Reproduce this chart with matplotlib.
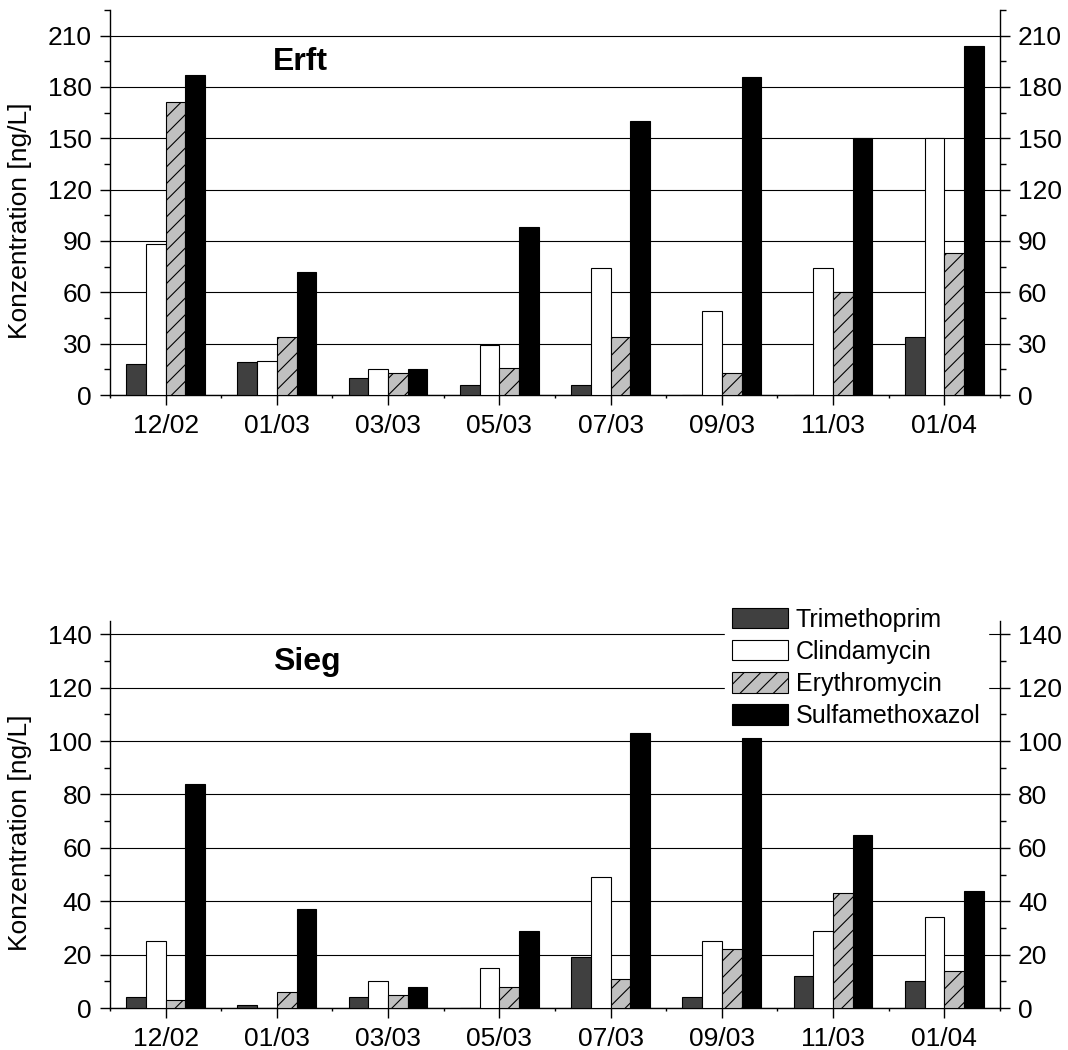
#%% Data

import numpy as np
import matplotlib.pyplot as plt
from matplotlib.ticker import MultipleLocator

dates = ['12/02', '01/03', '03/03', '05/03', '07/03', '09/03', '11/03', '01/04']
substances = ['Trimethoprim', 'Clindamycin', 'Erythromycin', 'Sulfamethoxazol']

# Erft [ng/L]
erft_trimethoprim = [18, 19, 10, 6, 6, 0, 0, 34]
erft_clindamycin = [88, 20, 15, 29, 74, 49, 74, 150]
erft_erythromycin = [171, 34, 13, 16, 34, 13, 60, 83]
erft_sulfamethoxazol = [187, 72, 15, 98, 160, 186, 150, 204]

# Sieg [ng/L]
sieg_trimethoprim = [4, 1, 4, 0, 19, 4, 12, 10]
sieg_clindamycin = [25, 0, 10, 15, 49, 25, 29, 34]
sieg_erythromycin = [3, 6, 5, 8, 11, 22, 43, 14]
sieg_sulfamethoxazol = [84, 37, 8, 29, 103, 101, 65, 44]

#%% Styling

plt.rcParams['font.family'] = ['Liberation Sans', 'DejaVu Sans']
plt.rcParams['hatch.linewidth'] = 0.8

faceColours = ['#404040', 'white', '#c0c0c0', 'black']
hatches = [None, None, '//', None]
barWidth = 0.177
fontSize = 19

fig = plt.figure(figsize=(10.68, 10.5), dpi=100)
axTop = fig.add_axes([0.103, 0.6238, 0.8333, 0.3667])
axBottom = fig.add_axes([0.103, 0.04, 0.8333, 0.3686])

panels = [
    (axTop, 'Erft', [erft_trimethoprim, erft_clindamycin, erft_erythromycin, erft_sulfamethoxazol],
     225, 30, 15, 0.844),
    (axBottom, 'Sieg', [sieg_trimethoprim, sieg_clindamycin, sieg_erythromycin, sieg_sulfamethoxazol],
     145, 20, 10, 0.873),
]

x = np.arange(len(dates))

for ax, river, series, yTop, major, minor, titleY in panels:
    for k, values in enumerate(series):
        ax.bar(x + (k - 1.5) * barWidth, values, width=barWidth,
               color=faceColours[k], edgecolor='black', linewidth=0.8,
               hatch=hatches[k], label=substances[k], zorder=3)

    ax.set_xlim(-0.5, len(dates) - 0.5)
    ax.set_ylim(0, yTop)
    ax.set_xticks(x)
    ax.set_xticklabels(dates)
    ax.xaxis.set_minor_locator(MultipleLocator(1, offset=0.5))
    ax.yaxis.set_major_locator(MultipleLocator(major))
    ax.yaxis.set_minor_locator(MultipleLocator(minor))

    ax.grid(axis='y', which='major', color='black', linewidth=0.8, zorder=0)
    ax.set_axisbelow(True)

    ax.spines['top'].set_visible(False)
    for side in ['left', 'right', 'bottom']:
        ax.spines[side].set_linewidth(1.0)

    ax.tick_params(axis='y', which='both', direction='out', left=True, right=True,
                   labelleft=True, labelright=True, labelsize=fontSize, width=1.0)
    ax.tick_params(axis='y', which='major', length=7, pad=6)
    ax.tick_params(axis='y', which='minor', length=4)
    ax.tick_params(axis='x', which='major', direction='out', length=7, width=1.0,
                   labelsize=fontSize, pad=7)
    ax.tick_params(axis='x', which='minor', direction='out', length=2, width=1.0)

    ax.set_ylabel('Konzentration [ng/L]', fontsize=fontSize)
    ax.yaxis.set_label_coords(-0.0876, 0.453)

    ax.text(0.183, titleY, river, transform=ax.transAxes, fontsize=23,
            fontweight='bold', ha='left', va='baseline')

#%% Legend on the lower panel

leg = axBottom.legend(loc='upper left', bbox_to_anchor=(0.691, 1.054),
                      borderaxespad=0, fontsize=18, frameon=True, fancybox=False,
                      framealpha=1, facecolor='white', edgecolor='white',
                      handlelength=2.24, handleheight=0.88, handletextpad=0.3,
                      labelspacing=0.33, borderpad=0.3)
leg.set_zorder(10)

fig.savefig('out.png', dpi=100)
